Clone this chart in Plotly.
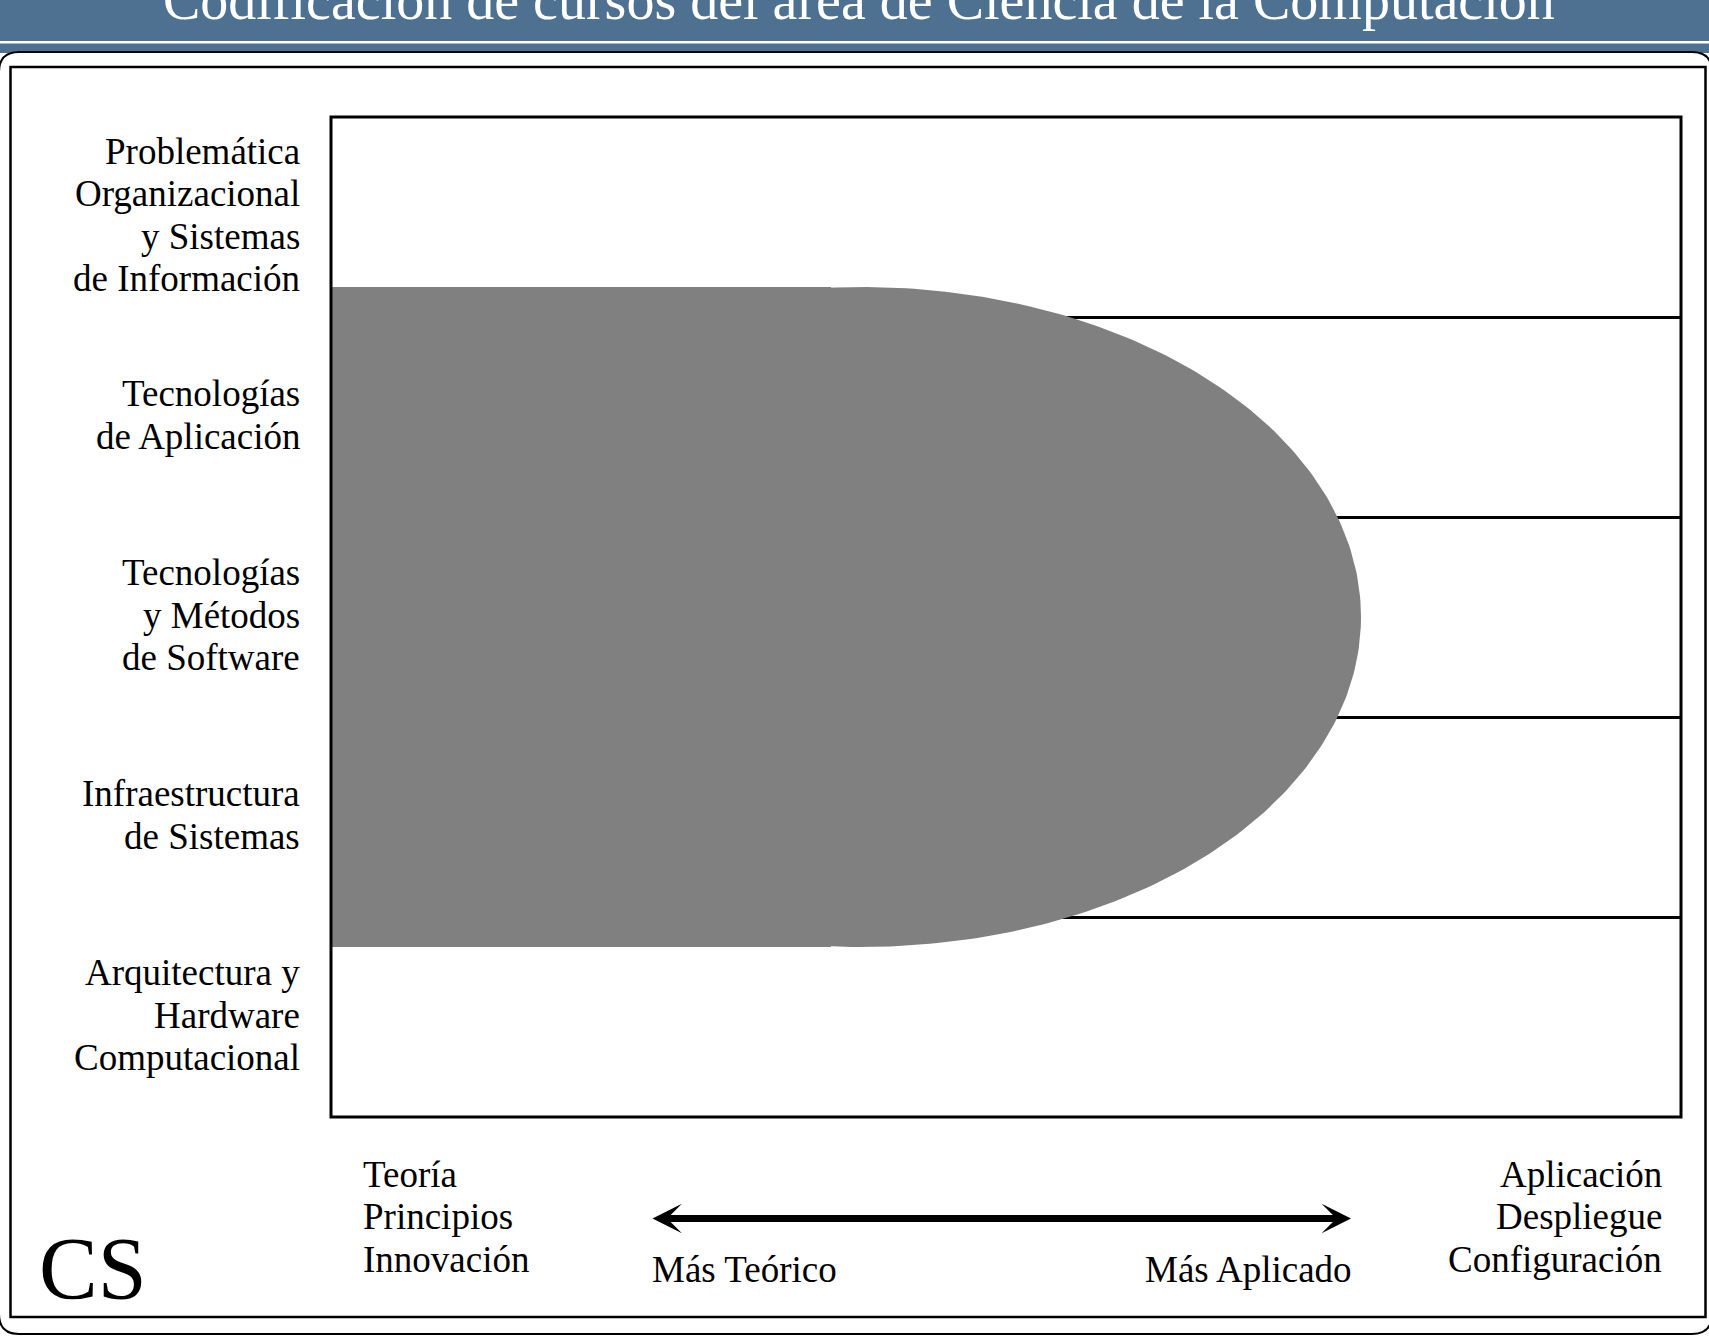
import numpy as np
import plotly.graph_objects as go

# ---------------- data ----------------
title_text = "Codificación de cursos del área de Ciencia de la Computación"
row_labels = [
    "Arquitectura y\nHardware\nComputacional",
    "Infraestructura\nde Sistemas",
    "Tecnologías\ny Métodos\nde Software",
    "Tecnologías\nde Aplicación",
    "Problemática\nOrganizacional\ny Sistemas\nde Información",
]
row_bounds = [0, 1, 2, 3, 4, 5]
area_name = "CS"
cs_low = 0.85          # lower edge of covered band (row units)
cs_high = 4.15         # upper edge of covered band
cs_rect_end = 2.5      # end of flat part (x units)
cs_cap_center = 2.65   # centre of the rounded cap
cs_cap_reach = 5.15    # rightmost extent of the cap
x_max = 6.75
left_terms = ["Teoría", "Principios", "Innovación"]
right_terms = ["Aplicación", "Despliegue", "Configuración"]
arrow_left_label = "Más Teórico"
arrow_right_label = "Más Aplicado"

# ---------------- page geometry ----------------
W, H = 1709, 1336
L, R, T, B = 331, 1681, 117, 1117
FONT = "Liberation Serif"
GRAY = "#808080"
BLUE = "#4F7191"


def px(xp):
    return (xp - L) / (R - L)


def py(yp):
    return (B - yp) / (B - T)


fig = go.Figure()

# covered region: flat band + elliptical cap
fig.add_trace(go.Scatter(
    x=[0, cs_rect_end, cs_rect_end, 0, 0],
    y=[cs_low, cs_low, cs_high, cs_high, cs_low],
    mode="lines", fill="toself", fillcolor=GRAY,
    line=dict(width=0, color=GRAY), hoverinfo="skip", showlegend=False))
t = np.linspace(0, 2 * np.pi, 400)
mid = (cs_low + cs_high) / 2
ry = (cs_high - cs_low) / 2
rx = cs_cap_reach - cs_cap_center
fig.add_trace(go.Scatter(
    x=cs_cap_center + rx * np.cos(t), y=mid + ry * np.sin(t),
    mode="lines", fill="toself", fillcolor=GRAY,
    line=dict(width=0, color=GRAY), hoverinfo="skip", showlegend=False))

shapes = []
# header bar
shapes.append(dict(type="rect", xref="paper", yref="paper", layer="below",
                   x0=px(-10), x1=px(W + 10), y0=py(53), y1=py(-10),
                   fillcolor=BLUE, line=dict(width=0)))
shapes.append(dict(type="rect", xref="paper", yref="paper", layer="below",
                   x0=px(-10), x1=px(W + 10), y0=py(43.5), y1=py(41),
                   fillcolor="white", line=dict(width=0)))
# rounded white panel
x0, x1, y0, y1, r = -1, 1712, 52, 1334, 20
pts = [
    ("M", x0 + r, y0), ("L", x1 - r, y0), ("Q", x1, y0, x1, y0 + r),
    ("L", x1, y1 - r), ("Q", x1, y1, x1 - r, y1), ("L", x0 + r, y1),
    ("Q", x0, y1, x0, y1 - r), ("L", x0, y0 + r), ("Q", x0, y0, x0 + r, y0),
]
path = ""
for p in pts:
    cmd = p[0]
    coords = p[1:]
    segs = []
    for i in range(0, len(coords), 2):
        segs.append(f"{px(coords[i]):.6f},{py(coords[i+1]):.6f}")
    path += cmd + " ".join(segs) + " "
path += "Z"
shapes.append(dict(type="path", xref="paper", yref="paper", layer="below",
                   path=path, fillcolor="white", line=dict(color="black", width=2)))
# inner frame
shapes.append(dict(type="rect", xref="paper", yref="paper", layer="below",
                   x0=px(10.5), x1=px(1705.5), y0=py(1317), y1=py(67),
                   fillcolor="rgba(0,0,0,0)", line=dict(color="black", width=2.5)))
# plot frame
shapes.append(dict(type="rect", xref="paper", yref="paper", layer="above",
                   x0=0, x1=1, y0=0, y1=1,
                   fillcolor="rgba(0,0,0,0)", line=dict(color="black", width=3)))

ann = []
# title
ann.append(dict(text=title_text, xref="paper", yref="paper", x=px(859), y=py(0),
                xanchor="center", yanchor="middle", showarrow=False,
                font=dict(family=FONT, size=56, color="white")))

LS = 42.5
LBL = 37
# row labels
for i, lab in enumerate(row_labels):
    lines = lab.split("\n")
    cy = B - (row_bounds[i] + row_bounds[i + 1]) / 2 * (B - T) / (row_bounds[-1] - row_bounds[0]) - 2
    n = len(lines)
    for j, ln in enumerate(lines):
        yy = cy + (j - (n - 1) / 2) * LS
        ann.append(dict(text=ln, xref="paper", yref="paper", x=px(302), y=py(yy),
                        xanchor="right", yanchor="middle", showarrow=False,
                        font=dict(family=FONT, size=LBL, color="black")))

bottom_y = [1174, 1216.5, 1259]
for j, ln in enumerate(left_terms):
    ann.append(dict(text=ln, xref="paper", yref="paper", x=px(361), y=py(bottom_y[j]),
                    xanchor="left", yanchor="middle", showarrow=False,
                    font=dict(family=FONT, size=LBL, color="black")))
for j, ln in enumerate(right_terms):
    ann.append(dict(text=ln, xref="paper", yref="paper", x=px(1664), y=py(bottom_y[j]),
                    xanchor="right", yanchor="middle", showarrow=False,
                    font=dict(family=FONT, size=LBL, color="black")))
ann.append(dict(text=arrow_left_label, xref="paper", yref="paper", x=px(650), y=py(1269),
                xanchor="left", yanchor="middle", showarrow=False,
                font=dict(family=FONT, size=LBL, color="black")))
ann.append(dict(text=arrow_right_label, xref="paper", yref="paper", x=px(1354), y=py(1269),
                xanchor="right", yanchor="middle", showarrow=False,
                font=dict(family=FONT, size=LBL, color="black")))
# double arrow
ann.append(dict(text="", xref="paper", yref="paper", x=px(1351), y=py(1218.5),
                ax=-(1351 - 651), ay=0, axref="pixel", ayref="pixel",
                showarrow=True, arrowhead=3, startarrowhead=3, arrowside="end+start",
                arrowwidth=7, arrowsize=0.7, startarrowsize=0.7, arrowcolor="black"))
# CS mark
ann.append(dict(text=area_name, xref="paper", yref="paper", x=px(37), y=py(1268),
                xanchor="left", yanchor="middle", showarrow=False,
                font=dict(family=FONT, size=88, color="black")))

fig.update_layout(
    width=W, height=H,
    margin=dict(l=L, r=W - R, t=T, b=H - B, pad=0),
    paper_bgcolor="white", plot_bgcolor="rgba(0,0,0,0)",
    shapes=shapes, annotations=ann, showlegend=False,
    xaxis=dict(range=[0, x_max], showgrid=False, zeroline=False, showticklabels=False,
               ticks="", fixedrange=True),
    yaxis=dict(range=[row_bounds[0], row_bounds[-1]], tickvals=row_bounds[1:-1],
               showgrid=True, gridcolor="black", gridwidth=2.5, zeroline=False,
               showticklabels=False, ticks="", fixedrange=True),
)

fig.write_html(
    "out.html",
    config={"displayModeBar": False},
    post_script="document.body.style.margin='0';document.body.style.overflow='hidden';",
)
